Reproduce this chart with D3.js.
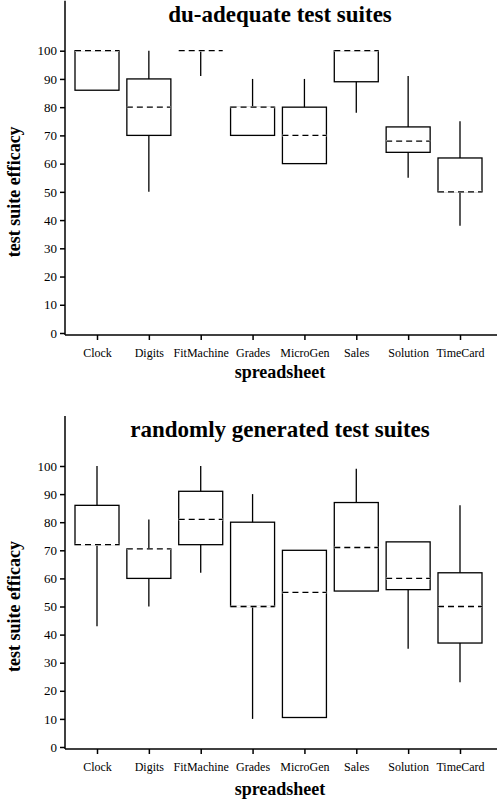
<!DOCTYPE html><html><head><meta charset="utf-8"><script src="https://cdn.jsdelivr.net/npm/d3@7"></script>
<style>body{margin:0;background:#fff}svg text{font-family:"Liberation Serif","Times New Roman","DejaVu Serif",serif !important}</style></head><body>
<script>
const categories=["Clock","Digits","FitMachine","Grades","MicroGen","Sales","Solution","TimeCard"];
const yTicks=[0,10,20,30,40,50,60,70,80,90,100];
// [min,q1,median,q3,max]
const duAdequate=[[86,86,100,100,100],[50,70,80,90,100],[91,100,100,100,100],[70,70,80,80,90],[60,60,70,80,90],[78,89,100,100,100],[55,64,68,73,91],[38,50,50,62,75]];
const randomGen=[[43,72,72,86,100],[50,60,70.5,70.5,81],[62,72,81,91,100],[10,50,50,80,90],[10.5,10.5,55,70,70],[55.5,55.5,71,87,99],[35,56,60,73,73],[23,37,50,62,86]];
const panels=[{title:"du-adequate test suites",data:duAdequate,y0:333,y100:50.7,titleY:22,xlab:378},
{title:"randomly generated test suites",data:randomGen,y0:747,y100:466,titleY:437,xlab:795}];
const svg=d3.select("body").append("svg").attr("width",500).attr("height",802);
const x=d3.scalePoint().domain(categories).range([97,460]);
const bw=44;
panels.forEach(p=>{
  const y=d3.scaleLinear().domain([0,100]).range([p.y0,p.y100]);
  const g=svg.append("g");
  g.append("text").attr("x",280).attr("y",p.titleY).attr("text-anchor","middle").attr("font-size",23).attr("font-weight","bold").text(p.title);
  g.append("text").attr("transform",`translate(20,${(p.y0+p.y100)/2}) rotate(-90)`).attr("text-anchor","middle").attr("font-size",18).attr("font-weight","bold").text("test suite efficacy");
  g.append("text").attr("x",280).attr("y",p.xlab).attr("text-anchor","middle").attr("font-size",18).attr("font-weight","bold").text("spreadsheet");
  const ya=g.append("g").attr("transform","translate(65,0)").call(d3.axisLeft(y).tickValues(yTicks).tickSize(5).tickSizeOuter(0));
  ya.select(".domain").attr("d",`M0,${p.y100-50}V${p.y0+2}`).attr("stroke-width",1.5);
  ya.selectAll("text").attr("font-size",13).attr("fill","#000");
  ya.selectAll(".tick line").attr("stroke-width",1.5);
  const xa=g.append("g").attr("transform",`translate(0,${p.y0+2})`).call(d3.axisBottom(x).tickSize(5).tickSizeOuter(0));
  xa.select(".domain").attr("d","M65,0H497").attr("stroke-width",1.5);
  xa.selectAll("text").attr("font-size",12).attr("fill","#000").attr("dy","1.2em");
  xa.selectAll(".tick line").attr("stroke-width",1.5);
  p.data.forEach((d,i)=>{
    const cx=x(categories[i]);
    const bg=g.append("g").attr("stroke","#000").attr("stroke-width",1.3).attr("fill","none");
    bg.append("line").attr("x1",cx).attr("x2",cx).attr("y1",y(d[0])).attr("y2",y(d[1]));
    bg.append("line").attr("x1",cx).attr("x2",cx).attr("y1",y(d[3])).attr("y2",y(d[4]));
    if(d[3]>d[1]) bg.append("rect").attr("x",cx-bw/2).attr("width",bw).attr("y",y(d[3])).attr("height",y(d[1])-y(d[3]));
    bg.append("line").attr("x1",cx-bw/2).attr("x2",cx+bw/2).attr("y1",y(d[2])).attr("y2",y(d[2])).attr("stroke","#fff").attr("stroke-width",2);
    bg.append("line").attr("x1",cx-bw/2).attr("x2",cx+bw/2).attr("y1",y(d[2])).attr("y2",y(d[2])).attr("stroke-dasharray","6,4");
  });
});
</script></body></html>
